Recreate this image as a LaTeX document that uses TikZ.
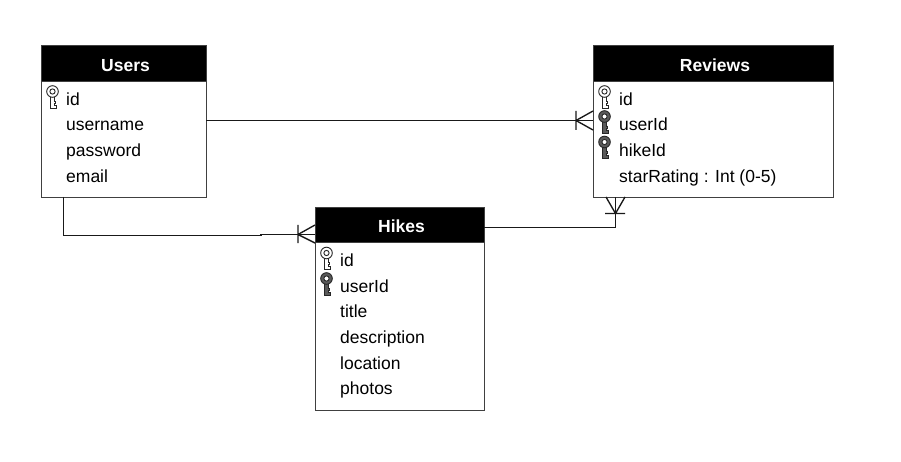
\documentclass[tikz,border=0pt]{standalone}
\usepackage{fontspec}
\setmainfont{Liberation Sans}
\newcommand{\fsize}{\fontsize{17.5pt}{20pt}\selectfont}
\newcommand{\keyicon}[3]{%
 \draw[keyline,fill=#3] (#1-2,#2+5) -- (#1-2,#2+16.5) -- (#1+3.8,#2+16.5) -- (#1+3.8,#2+13.5) -- (#1+1.9,#2+13.5) -- (#1+1.9,#2+11.5) -- (#1+3.2,#2+11.5) -- (#1+3.2,#2+9.5) -- (#1+1.9,#2+9.5) -- (#1+1.9,#2+5) -- cycle;
 \draw[keyline,fill=#3] (#1,#2) circle (5.8pt);
 \draw[keyline,fill=white] (#1,#2) circle (2.6pt);
}
\begin{document}
\begin{tikzpicture}[x=1pt,y=-1pt]
\tikzstyle{box}=[draw=black!75, fill=white, rectangle, line width=1pt, anchor=north west, inner sep=0pt]
\tikzstyle{head}=[draw=black!75, fill=black, text=white, rectangle, line width=1pt, anchor=north west, inner sep=0pt, text height=16pt, text depth=0pt, font=\fsize\bfseries, execute at begin node=\hspace*{3pt}]
\tikzstyle{field}=[anchor=base west, inner sep=0pt, font=\fsize]
\tikzstyle{conn}=[line width=1.35pt, black!90]
\tikzstyle{keyline}=[line width=.9pt, draw=black!85]
\useasboundingbox (0,0) rectangle (901,462);
% Users
\node[box,minimum width=165pt,minimum height=152pt] (users) at (41,45) {};
\node[head,minimum width=165pt,minimum height=36pt] (usersHead) at (41,45) {Users};
\keyicon{52.5}{91.5}{white}
\node[field] (usersId) at (66,105.7) {id};
\node[field] (usersName) at (66,130.7) {username};
\node[field] (usersPass) at (66,156.7) {password};
\node[field] (usersMail) at (66,182.7) {email};
% Reviews
\node[box,minimum width=240pt,minimum height=152pt] (reviews) at (593,45) {};
\node[head,minimum width=240pt,minimum height=36pt] (reviewsHead) at (593,45) {Reviews};
\keyicon{604.5}{91.5}{white}
\keyicon{604.5}{116.5}{black!65}
\keyicon{604.5}{142}{black!65}
\node[field] (reviewsId) at (619,105.7) {id};
\node[field] (reviewsUser) at (619,130.7) {userId};
\node[field] (reviewsHike) at (619,156.7) {hikeId};
\node[field] (reviewsStar) at (619,182.7) {starRating : Int (0-5)};
% Hikes
\node[box,minimum width=169pt,minimum height=203pt] (hikes) at (315,207) {};
\node[head,minimum width=169pt,minimum height=35pt] (hikesHead) at (315,207) {Hikes};
\keyicon{326.5}{253}{white}
\keyicon{326.5}{278.5}{black!65}
\node[field] (hikesId) at (340,266) {id};
\node[field] (hikesUser) at (340,292) {userId};
\node[field] (hikesTitle) at (340,317) {title};
\node[field] (hikesDesc) at (340,343) {description};
\node[field] (hikesLoc) at (340,369) {location};
\node[field] (hikesPhotos) at (340,394) {photos};
% connectors
\coordinate (usersOut) at (63.5,197);
\coordinate (hikesIn) at (315,234.5);
\coordinate (hikesOut) at (484,227.5);
\coordinate (reviewsIn) at (615.5,197);
\coordinate (usersEast) at (206,120.5);
\coordinate (reviewsWest) at (593,120.5);
\draw[conn] (usersEast) -- (reviewsWest);
\draw[conn] (usersOut) -- (63.5,235.5) -- (261,235.5) -- (261,234.5) -- (hikesIn);
\draw[conn] (hikesOut) -- (615.5,227.5) -- (reviewsIn);
% crow feet
\draw[conn] (593,111) -- (576,120.5) -- (593,130) (576,111) -- (576,130);
\draw[conn] (315,225) -- (298,234.5) -- (315,243) (298,225) -- (298,243);
\draw[conn] (606,197) -- (615.5,213.5) -- (625,197) (605,213.5) -- (625,213.5);
\end{tikzpicture}
\end{document}
